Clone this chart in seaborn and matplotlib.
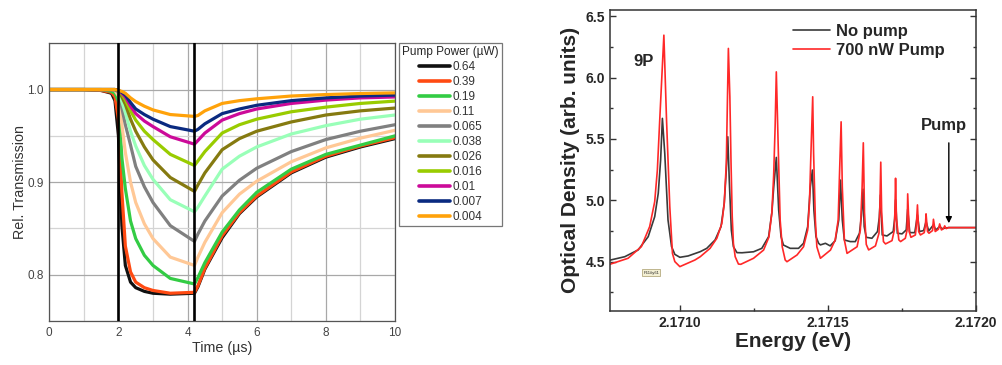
import numpy as np
import pandas as pd
import seaborn as sns
import matplotlib
matplotlib.use("Agg")
import matplotlib.pyplot as plt
from matplotlib.ticker import MultipleLocator, FormatStrFormatter, FixedLocator

# ---- left panel data: relative transmission vs time, one curve per pump power
time_us = [0, 1, 1.5, 1.8, 1.9, 2.0, 2.1, 2.2, 2.35, 2.5, 2.75, 3.0, 3.5,
           4.2, 4.3, 4.5, 5.0, 5.5, 6.0, 7.0, 8.0, 9.0, 10.0]
pump_powers = ["0.64", "0.39", "0.19", "0.11", "0.065", "0.038", "0.026",
               "0.016", "0.01", "0.007", "0.004"]
pump_colors = ["#111111", "#ff4a12", "#33cc44", "#ffc896", "#808080", "#99ffb8",
               "#857a10", "#99cc00", "#cc0a99", "#0a2a80", "#ffa20a"]
trans_064 = [1.0, 1.0, 0.999, 0.996, 0.988, 0.950, 0.853, 0.810, 0.792, 0.786, 0.782, 0.780, 0.779,
             0.780, 0.787, 0.806, 0.840, 0.866, 0.884, 0.910, 0.927, 0.938, 0.947]
trans_039 = [1.0, 1.0, 0.999, 0.997, 0.992, 0.968, 0.889, 0.831, 0.803, 0.792, 0.786, 0.783, 0.780,
             0.781, 0.788, 0.807, 0.842, 0.867, 0.885, 0.911, 0.928, 0.939, 0.948]
trans_019 = [1.0, 1.0, 1.0, 0.998, 0.996, 0.987, 0.926, 0.893, 0.858, 0.839, 0.821, 0.810, 0.796,
             0.790, 0.797, 0.813, 0.846, 0.870, 0.889, 0.914, 0.930, 0.940, 0.950]
trans_011 = [1.0, 1.0, 1.0, 1.0, 0.999, 0.993, 0.962, 0.932, 0.900, 0.878, 0.855, 0.839, 0.819,
             0.810, 0.819, 0.835, 0.867, 0.887, 0.901, 0.922, 0.937, 0.9475, 0.956]
trans_0065 = [1.0, 1.0, 1.0, 1.0, 1.0, 0.997, 0.980, 0.962, 0.940, 0.917, 0.895, 0.878, 0.853,
              0.836, 0.844, 0.858, 0.885, 0.902, 0.915, 0.933, 0.946, 0.955, 0.962]
trans_0038 = [1.0, 1.0, 1.0, 1.0, 1.0, 0.998, 0.987, 0.975, 0.955, 0.939, 0.918, 0.903, 0.881,
              0.868, 0.873, 0.885, 0.914, 0.928, 0.938, 0.952, 0.961, 0.968, 0.9725]
trans_0026 = [1.0, 1.0, 1.0, 1.0, 1.0, 0.999, 0.992, 0.984, 0.968, 0.955, 0.938, 0.924, 0.905,
              0.890, 0.897, 0.910, 0.935, 0.947, 0.955, 0.965, 0.9725, 0.977, 0.980]
trans_0016 = [1.0, 1.0, 1.0, 1.0, 1.0, 0.999, 0.995, 0.989, 0.977, 0.967, 0.955, 0.946, 0.930,
              0.918, 0.923, 0.933, 0.953, 0.962, 0.968, 0.976, 0.981, 0.985, 0.9875]
trans_001 = [1.0, 1.0, 1.0, 1.0, 1.0, 0.999, 0.996, 0.992, 0.982, 0.974, 0.966, 0.960, 0.949,
             0.941, 0.945, 0.953, 0.967, 0.974, 0.979, 0.985, 0.9886, 0.991, 0.992]
trans_0007 = [1.0, 1.0, 1.0, 1.0, 1.0, 0.999, 0.997, 0.994, 0.986, 0.979, 0.973, 0.968, 0.960,
              0.955, 0.957, 0.963, 0.974, 0.979, 0.983, 0.988, 0.991, 0.993, 0.994]
trans_0004 = [1.0, 1.0, 1.0, 1.0, 1.0, 0.999, 0.998, 0.996, 0.991, 0.987, 0.982, 0.978, 0.973,
              0.971, 0.972, 0.977, 0.985, 0.988, 0.990, 0.993, 0.9946, 0.9957, 0.9964]
pulse_edges = [2.0, 4.2]

# ---- right panel data: optical density spectra
energy_nopump = [2.170756, 2.170813, 2.170858, 2.170892, 2.170914, 2.170926, 2.170934, 2.170940,
                 2.170948, 2.170959, 2.170971, 2.170982, 2.170999, 2.171027, 2.171068, 2.171090,
                 2.171118, 2.171138, 2.171149, 2.171156, 2.171161, 2.171166, 2.171173, 2.171180,
                 2.171192, 2.171209, 2.171248, 2.171276, 2.171299, 2.171310, 2.171316, 2.171325,
                 2.171333, 2.171341, 2.171349, 2.171372, 2.171400, 2.171417, 2.171431, 2.171440,
                 2.171447, 2.171452, 2.171459, 2.171468, 2.171474, 2.171491, 2.171507, 2.171524,
                 2.171536, 2.171542, 2.171548, 2.171555, 2.171575, 2.171592, 2.171606, 2.171613,
                 2.171618, 2.171622, 2.171629, 2.171648, 2.171667, 2.171673, 2.171677, 2.171683,
                 2.171699, 2.171720, 2.171725, 2.171728, 2.171734, 2.171750, 2.171764, 2.171769,
                 2.171776, 2.171793, 2.171802, 2.171809, 2.171823, 2.171831, 2.171840, 2.171856,
                 2.171864, 2.171877, 2.171885, 2.171907, 2.172000]
od_nopump = [4.508, 4.540, 4.595, 4.703, 4.866, 5.056, 5.327, 5.667,
             5.382, 4.839, 4.622, 4.559, 4.535, 4.546, 4.581, 4.608,
             4.676, 4.784, 4.975, 5.246, 5.517, 5.164, 4.757, 4.621,
             4.573, 4.572, 4.580, 4.608, 4.703, 4.900, 5.100, 5.349,
             4.920, 4.703, 4.635, 4.608, 4.608, 4.649, 4.784, 5.110,
             5.246, 4.920, 4.703, 4.649, 4.636, 4.649, 4.628, 4.670,
             4.839, 5.164, 4.839, 4.676, 4.663, 4.663, 4.731, 4.880,
             5.090, 4.785, 4.698, 4.690, 4.745, 4.860, 5.043, 4.717,
             4.709, 4.745, 4.850, 5.003, 4.731, 4.726, 4.758, 4.927,
             4.736, 4.736, 4.880, 4.745, 4.753, 4.826, 4.750, 4.799,
             4.758, 4.785, 4.769, 4.777, 4.777]
energy_pump = [2.170756, 2.170824, 2.170869, 2.170897, 2.170914, 2.170923, 2.170931, 2.170945,
               2.170954, 2.170965, 2.170974, 2.170982, 2.170999, 2.171050, 2.171068, 2.171101,
               2.171124, 2.171141, 2.171149, 2.171156, 2.171160, 2.171163, 2.171168, 2.171172,
               2.171176, 2.171180, 2.171186, 2.171197, 2.171205, 2.171248, 2.171282, 2.171300,
               2.171310, 2.171316, 2.171321, 2.171325, 2.171332, 2.171338, 2.171345, 2.171355,
               2.171361, 2.171395, 2.171417, 2.171431, 2.171437, 2.171442, 2.171448, 2.171451,
               2.171457, 2.171462, 2.171474, 2.171508, 2.171524, 2.171534, 2.171539, 2.171544,
               2.171548, 2.171555, 2.171564, 2.171598, 2.171609, 2.171615, 2.171619, 2.171623,
               2.171629, 2.171637, 2.171660, 2.171672, 2.171675, 2.171678, 2.171681, 2.171687,
               2.171694, 2.171716, 2.171724, 2.171726, 2.171728, 2.171731, 2.171739, 2.171745,
               2.171761, 2.171767, 2.171769, 2.171774, 2.171780, 2.171795, 2.171798, 2.171802,
               2.171806, 2.171812, 2.171825, 2.171829, 2.171831, 2.171836, 2.171841, 2.171853,
               2.171856, 2.171862, 2.171873, 2.171877, 2.171883, 2.171890, 2.171894, 2.171899,
               2.171907, 2.172000]
od_pump = [4.473, 4.527, 4.622, 4.785, 4.988, 5.246, 5.653, 6.345,
           5.653, 4.947, 4.567, 4.500, 4.459, 4.513, 4.540, 4.608,
           4.690, 4.812, 4.975, 5.300, 5.843, 6.237, 5.843, 5.300,
           4.866, 4.649, 4.540, 4.480, 4.478, 4.527, 4.594, 4.700,
           4.900, 5.200, 5.600, 6.046, 5.382, 4.839, 4.621, 4.513,
           4.499, 4.554, 4.621, 4.757, 4.975, 5.382, 5.843, 5.382,
           4.839, 4.621, 4.527, 4.594, 4.676, 4.839, 5.246, 5.639,
           5.110, 4.676, 4.567, 4.621, 4.757, 5.110, 5.468, 4.900,
           4.640, 4.595, 4.628, 4.731, 4.950, 5.310, 4.900, 4.663,
           4.644, 4.671, 4.758, 4.930, 5.179, 4.850, 4.677, 4.663,
           4.690, 4.758, 5.052, 4.745, 4.698, 4.717, 4.785, 4.962,
           4.745, 4.717, 4.736, 4.799, 4.889, 4.745, 4.731, 4.753,
           4.845, 4.745, 4.764, 4.807, 4.758, 4.768, 4.791, 4.769,
           4.777, 4.777]

sns.set_theme(style="white")
plt.rcParams["font.family"] = ["Liberation Sans", "DejaVu Sans"]

fig = plt.figure(figsize=(10.02, 3.65), dpi=100)

# ================= left panel
ax1 = fig.add_axes([0.0492, 0.1205, 0.345, 0.761])
all_trans = [trans_064, trans_039, trans_019, trans_011, trans_0065, trans_0038,
             trans_0026, trans_0016, trans_001, trans_0007, trans_0004]
df_left = pd.concat([pd.DataFrame({"time": time_us, "trans": tr, "power": p})
                     for p, tr in zip(pump_powers, all_trans)], ignore_index=True)
sns.lineplot(data=df_left, x="time", y="trans", hue="power", hue_order=pump_powers,
             palette=pump_colors, estimator=None, sort=False, lw=2.3, ax=ax1, legend=False)
for xe in pulse_edges:
    ax1.axvline(xe, color="black", lw=1.9, zorder=5)

ax1.set_xlim(0, 10)
ax1.set_ylim(0.75, 1.05)
ax1.xaxis.set_major_locator(MultipleLocator(2))
ax1.xaxis.set_minor_locator(MultipleLocator(1))
ax1.yaxis.set_major_locator(FixedLocator([0.8, 0.9, 1.0]))
ax1.yaxis.set_minor_locator(FixedLocator([0.75, 0.85, 0.95, 1.05]))
ax1.yaxis.set_major_formatter(FormatStrFormatter("%.1f"))
ax1.grid(which="major", color="#a8a8a8", lw=0.9)
ax1.grid(which="minor", color="#d4d4d4", lw=0.9)
ax1.set_axisbelow(True)
ax1.tick_params(which="both", length=0, labelsize=8.5, colors="#444444", pad=4)
for s in ax1.spines.values():
    s.set_color("#555555")
    s.set_linewidth(0.9)
ax1.set_xlabel("Time (µs)", fontsize=10.3, color="#333333", labelpad=2)
ax1.set_ylabel("Rel. Transmission", fontsize=10.3, color="#333333", labelpad=0)

handles = [plt.Line2D([], [], color=c, lw=2.6) for c in pump_colors]
leg1 = ax1.legend(handles, pump_powers, title="Pump Power (µW)", loc="upper left",
                  bbox_to_anchor=(0.3985, 0.883), bbox_transform=fig.transFigure,
                  borderaxespad=0, fontsize=8.5, title_fontsize=8.5, frameon=True,
                  fancybox=False, edgecolor="#555555", handlelength=2.7,
                  handletextpad=0.2, labelspacing=0.26, borderpad=0.25)
leg1.get_frame().set_linewidth(0.9)
for t in leg1.get_texts():
    t.set_color("#333333")

# ================= right panel
ax2 = fig.add_axes([0.6088, 0.1488, 0.3653, 0.8238])
sns.lineplot(x=energy_nopump, y=od_nopump, color="#3a3a3a", lw=1.2, sort=False,
             estimator=None, ax=ax2, label="No pump")
sns.lineplot(x=energy_pump, y=od_pump, color="#ff2828", lw=1.2, sort=False,
             estimator=None, ax=ax2, label="700 nW Pump")

ax2.set_xlim(2.170763, 2.1720)
ax2.set_ylim(4.1, 6.55)
ax2.xaxis.set_major_locator(FixedLocator([2.1710, 2.1715, 2.1720]))
ax2.xaxis.set_minor_locator(FixedLocator([2.17125, 2.17175]))
ax2.xaxis.set_major_formatter(FormatStrFormatter("%.4f"))
ax2.yaxis.set_major_locator(MultipleLocator(0.5))
ax2.yaxis.set_minor_locator(MultipleLocator(0.25))
ax2.yaxis.set_major_formatter(FormatStrFormatter("%.1f"))
ax2.tick_params(which="both", direction="in", right=True, bottom=True, left=True,
                width=1.0, color="#333333")
ax2.tick_params(which="major", length=4.5)
ax2.tick_params(which="minor", length=2.5)
for lab in ax2.get_xticklabels() + ax2.get_yticklabels():
    lab.set_fontsize(10)
    lab.set_fontweight("bold")
for s in ax2.spines.values():
    s.set_color("#333333")
    s.set_linewidth(1.1)
ax2.set_xlabel("Energy (eV)", fontsize=15, fontweight="bold", labelpad=2)
ax2.set_ylabel("Optical Density (arb. units)", fontsize=15, fontweight="bold", labelpad=4)

leg2 = ax2.legend(loc="upper left", bbox_to_anchor=(0.5, 0.955), frameon=False,
                  borderaxespad=0, borderpad=0, handlelength=2.2, handletextpad=0.35,
                  labelspacing=0.25, prop={"weight": "bold", "size": 12})

ax2.text(2.170875, 6.128, "9P", fontsize=12, fontweight="bold", ha="center", va="center")
ax2.text(2.171893, 5.61, "Pump", fontsize=12, fontweight="bold", ha="center", va="center")
ax2.annotate("", xy=(2.171908, 4.79), xytext=(2.171908, 5.49),
             arrowprops=dict(arrowstyle="-|>", color="black", lw=1.0, mutation_scale=9))
ax2.text(2.170902, 4.41, "P11#y61", fontsize=3, ha="center", va="center",
         bbox=dict(boxstyle="square,pad=0.3", fc="#f4f0d4", ec="#a89c6a", lw=0.5))

fig.savefig("out.png", dpi=100)
